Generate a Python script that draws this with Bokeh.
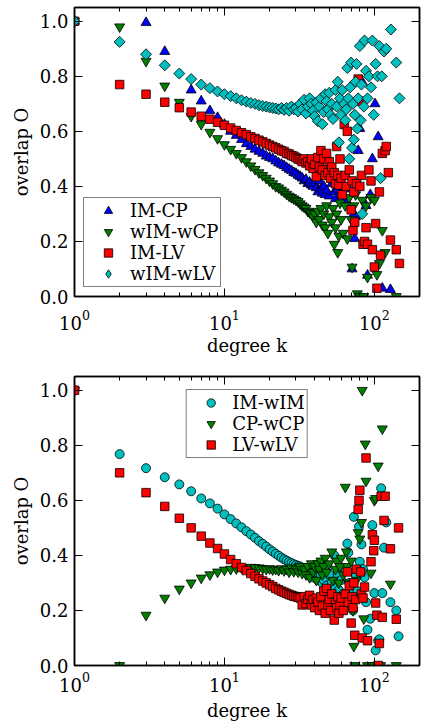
from bokeh.plotting import figure
from bokeh.layouts import column
from bokeh.models import (LinearAxis, LogAxis, FixedTicker, LogTickFormatter,
                          PrintfTickFormatter, Range1d, Legend, LegendItem,
                          CDSView, IndexFilter, ColumnDataSource)
from bokeh.embed import file_html
from bokeh.resources import INLINE

FONT = "DejaVu Serif"

# ---------------- top panel data ----------------
k_imcp = [1, 3, 4, 6, 7, 8, 9, 10, 11, 12, 13, 14, 15, 16, 17, 18, 19, 20, 21, 22, 23, 24, 25, 26, 27, 28, 29, 30,
          31, 32, 33, 34, 35, 36, 37, 38, 39, 40, 41, 42, 43, 44, 45, 46, 47, 48, 50, 52, 54, 55, 57, 60, 62, 65, 68,
          71, 73, 74, 75, 78, 80, 83, 88, 90, 94, 97, 101, 106, 113, 128]
o_imcp = [1.0, 0.995, 0.89, 0.75, 0.71, 0.675, 0.65, 0.625, 0.60, 0.585, 0.57, 0.555, 0.545, 0.535, 0.527, 0.52,
          0.51, 0.505, 0.50, 0.492, 0.485, 0.48, 0.475, 0.468, 0.462, 0.457, 0.45, 0.447, 0.44, 0.436, 0.43, 0.42,
          0.425, 0.41, 0.415, 0.405, 0.40, 0.41, 0.395, 0.38, 0.42, 0.39, 0.375, 0.40, 0.37, 0.385, 0.365, 0.41,
          0.38, 0.355, 0.39, 0.37, 0.345, 0.35, 0.39, 0.10, 0.30, 0.21, 0.29, 0.53, 0.61, 0.78, 0.33, 0.077, 0.37,
          0.50, 0.70, 0.58, 0.03, 0.025]

k_wimwcp = [1, 2, 3, 4, 5, 6, 7, 8, 9, 10, 11, 12, 13, 14, 15, 16, 17, 18, 19, 20, 21, 22, 23, 24, 25, 26, 27, 28,
            29, 30, 31, 32, 33, 34, 35, 36, 37, 38, 39, 40, 41, 42, 43, 44, 45, 46, 47, 48, 49, 50, 52, 53, 54, 55,
            56, 57, 58, 59, 60, 62, 64, 66, 68, 70, 71, 73, 75, 77, 80, 83, 85, 88, 90, 95, 100, 104, 108, 113, 118,
            140]
o_wimwcp = [1.0, 0.98, 0.855, 0.765, 0.706, 0.655, 0.626, 0.597, 0.574, 0.552, 0.535, 0.52, 0.505, 0.49, 0.475,
            0.462, 0.45, 0.44, 0.43, 0.42, 0.41, 0.40, 0.395, 0.387, 0.38, 0.372, 0.365, 0.36, 0.355, 0.35, 0.345,
            0.337, 0.33, 0.325, 0.32, 0.31, 0.305, 0.30, 0.29, 0.30, 0.27, 0.31, 0.28, 0.32, 0.26, 0.30, 0.25, 0.33,
            0.23, 0.29, 0.27, 0.32, 0.19, 0.25, 0.30, 0.16, 0.22, 0.34, 0.28, 0.23, 0.33, 0.21, 0.36, 0.28, 0.107,
            0.33, 0.37, 0.01, 0.0, 0.35, 0.0, 0.33, 0.07, 0.36, 0.35, 0.08, 0.12, 0.24, 0.16, 0.0]

k_imlv = [1, 2, 3, 4, 5, 6, 7, 8, 9, 10, 11, 12, 13, 14, 15, 16, 17, 18, 19, 20, 21, 22, 23, 24, 25, 26, 27, 28, 29,
          30, 31, 32, 33, 34, 35, 36, 37, 38, 39, 40, 41, 42, 43, 44, 45, 46, 47, 48, 49, 50, 51, 52, 54, 55, 56,
          57, 58, 59, 60, 61, 63, 64, 65, 66, 68, 70, 71, 72, 73, 74, 76, 78, 79, 80, 82, 84, 86, 88, 90, 92, 95,
          97, 100, 102, 104, 108, 110, 113, 118, 120, 124, 128, 140, 147]
o_imlv = [1.0, 0.77, 0.735, 0.706, 0.686, 0.67, 0.655, 0.644, 0.633, 0.622, 0.612, 0.603, 0.595, 0.588, 0.58, 0.574,
          0.568, 0.562, 0.556, 0.55, 0.545, 0.54, 0.535, 0.53, 0.527, 0.52, 0.518, 0.512, 0.51, 0.505, 0.50, 0.497,
          0.49, 0.50, 0.485, 0.49, 0.475, 0.50, 0.465, 0.48, 0.435, 0.505, 0.47, 0.53, 0.46, 0.50, 0.44, 0.52, 0.45,
          0.49, 0.43, 0.47, 0.45, 0.41, 0.545, 0.44, 0.405, 0.50, 0.43, 0.37, 0.625, 0.44, 0.40, 0.60, 0.46, 0.315,
          0.42, 0.24, 0.38, 0.27, 0.41, 0.79, 0.71, 0.40, 0.44, 0.19, 0.20, 0.25, 0.19, 0.46, 0.42, 0.17, 0.107,
          0.265, 0.03, 0.38, 0.15, 0.52, 0.53, 0.545, 0.45, 0.205, 0.17, 0.12]

k_wimwlv = [1, 2, 3, 4, 5, 6, 7, 8, 9, 10, 11, 12, 13, 14, 15, 16, 17, 18, 19, 20, 21, 22, 23, 24, 25, 26, 27, 28,
            29, 30, 31, 32, 33, 34, 35, 36, 37, 38, 39, 40, 41, 42, 43, 44, 45, 46, 47, 48, 49, 50, 51, 52, 53, 55,
            56, 57, 58, 59, 60, 61, 63, 64, 65, 66, 67, 68, 69, 70, 71, 72, 73, 74, 75, 76, 77, 78, 80, 81, 82, 83,
            85, 86, 88, 90, 92, 95, 97, 99, 102, 105, 108, 110, 112, 116, 120, 129, 140, 147]
o_wimwlv = [1.0, 0.925, 0.88, 0.84, 0.81, 0.79, 0.77, 0.757, 0.745, 0.735, 0.728, 0.72, 0.713, 0.708, 0.703, 0.70,
            0.695, 0.692, 0.69, 0.687, 0.685, 0.683, 0.68, 0.685, 0.678, 0.685, 0.675, 0.69, 0.68, 0.685, 0.672,
            0.70, 0.68, 0.715, 0.665, 0.69, 0.72, 0.70, 0.675, 0.655, 0.705, 0.637, 0.69, 0.72, 0.626, 0.67, 0.735,
            0.71, 0.68, 0.74, 0.66, 0.70, 0.645, 0.75, 0.69, 0.78, 0.56, 0.72, 0.66, 0.75, 0.70, 0.64, 0.68, 0.83,
            0.72, 0.50, 0.76, 0.85, 0.54, 0.70, 0.57, 0.66, 0.78, 0.845, 0.61, 0.72, 0.91, 0.64, 0.77, 0.30, 0.69,
            0.93, 0.82, 0.72, 0.80, 0.76, 0.93, 0.66, 0.845, 0.80, 0.91, 0.43, 0.80, 0.89, 0.90, 0.97, 0.85, 0.72]

# ---------------- bottom panel data ----------------
k_imwim = [1, 2, 3, 4, 5, 6, 7, 8, 9, 10, 11, 12, 13, 14, 15, 16, 17, 18, 19, 20, 21, 22, 23, 24, 25, 26, 27, 28,
           29, 30, 31, 32, 33, 34, 35, 36, 37, 38, 39, 40, 41, 42, 43, 44, 45, 46, 47, 48, 50, 52, 54, 55, 57, 58,
           60, 62, 64, 66, 67, 68, 70, 72, 73, 75, 77, 79, 80, 82, 84, 86, 88, 90, 94, 97, 100, 102, 106, 108, 111,
           113, 116, 120, 128, 140, 145]
o_imwim = [1.0, 0.768, 0.717, 0.684, 0.658, 0.633, 0.607, 0.589, 0.57, 0.549, 0.532, 0.516, 0.502, 0.488, 0.476,
           0.464, 0.452, 0.442, 0.432, 0.422, 0.414, 0.406, 0.399, 0.392, 0.386, 0.381, 0.376, 0.372, 0.368, 0.365,
           0.362, 0.36, 0.352, 0.345, 0.34, 0.355, 0.33, 0.36, 0.32, 0.35, 0.34, 0.31, 0.37, 0.33, 0.30, 0.31, 0.36,
           0.29, 0.33, 0.30, 0.40, 0.28, 0.33, 0.274, 0.31, 0.26, 0.35, 0.443, 0.41, 0.30, 0.26, 0.20, 0.54, 0.33,
           0.27, 0.505, 0.377, 0.44, 0.35, 0.32, 0.23, 0.13, 0.17, 0.51, 0.263, 0.055, 0.09, 0.095, 0.644, 0.263,
           0.428, 0.52, 0.23, 0.20, 0.106]

k_cpwcp = [1, 2, 3, 4, 5, 6, 7, 8, 9, 10, 11, 12, 13, 14, 15, 16, 17, 18, 19, 20, 21, 22, 23, 24, 25, 26, 27, 28,
           29, 30, 31, 32, 33, 34, 35, 36, 37, 38, 39, 40, 41, 42, 43, 44, 45, 46, 47, 48, 50, 52, 53, 55, 56, 58,
           59, 60, 62, 64, 65, 66, 68, 70, 72, 73, 74, 76, 78, 80, 82, 83, 85, 87, 88, 90, 95, 98, 100, 102, 106,
           110, 113, 128, 140]
o_cpwcp = [1.0, 0.0, 0.183, 0.245, 0.278, 0.30, 0.318, 0.33, 0.34, 0.347, 0.35, 0.352, 0.355, 0.356, 0.357, 0.356,
           0.355, 0.353, 0.35, 0.352, 0.348, 0.35, 0.346, 0.352, 0.345, 0.35, 0.34, 0.355, 0.342, 0.35, 0.34, 0.36,
           0.335, 0.35, 0.33, 0.36, 0.32, 0.37, 0.34, 0.36, 0.31, 0.37, 0.35, 0.38, 0.33, 0.36, 0.39, 0.34, 0.37,
           0.413, 0.31, 0.35, 0.38, 0.30, 0.36, 0.39, 0.33, 0.648, 0.413, 0.36, 0.30, 0.38, 0.20, 0.07, 0.0, 0.31,
           0.483, 0.46, 0.52, 1.0, 0.17, 0.805, 0.67, 0.0, 0.336, 0.0, 0.60, 0.607, 0.725, 0.0, 0.86, 0.296, 0.0]

k_lvwlv = [1, 2, 3, 4, 5, 6, 7, 8, 9, 10, 11, 12, 13, 14, 15, 16, 17, 18, 19, 20, 21, 22, 23, 24, 25, 26, 27, 28,
           29, 30, 31, 32, 33, 34, 35, 36, 37, 38, 39, 40, 41, 42, 43, 44, 45, 46, 47, 48, 49, 50, 51, 52, 54, 55,
           56, 57, 58, 59, 60, 62, 64, 66, 67, 68, 70, 71, 72, 73, 74, 75, 76, 78, 79, 80, 81, 82, 83, 84, 86, 88,
           90, 95, 97, 99, 100, 102, 104, 106, 108, 111, 113, 116, 118, 128, 140, 145]
o_lvwlv = [1.0, 0.70, 0.628, 0.578, 0.535, 0.50, 0.47, 0.445, 0.425, 0.405, 0.385, 0.37, 0.356, 0.345, 0.334, 0.324,
           0.315, 0.307, 0.30, 0.293, 0.287, 0.28, 0.275, 0.27, 0.266, 0.262, 0.258, 0.255, 0.252, 0.25, 0.248,
           0.245, 0.22, 0.25, 0.225, 0.24, 0.255, 0.22, 0.24, 0.21, 0.245, 0.23, 0.20, 0.25, 0.215, 0.27, 0.19, 0.28,
           0.22, 0.24, 0.20, 0.26, 0.165, 0.23, 0.21, 0.25, 0.19, 0.22, 0.245, 0.20, 0.26, 0.34, 0.23, 0.29, 0.154,
           0.25, 0.21, 0.30, 0.11, 0.24, 0.35, 0.567, 0.60, 0.637, 0.34, 0.26, 0.10, 0.245, 0.285, 0.754, 0.09,
           0.377, 0.475, 0.417, 0.455, 0.227, 0.183, 0.0, 0.08, 0.615, 0.175, 0.527, 0.615, 0.424, 0.168, 0.50]

y_ticks = [0.0, 0.2, 0.4, 0.6, 0.8, 1.0]
x_ticks = [1, 10, 100]
x_minor = [2, 3, 4, 5, 6, 7, 8, 9, 20, 30, 40, 50, 60, 70, 80, 90, 200]

BLUE, GREEN, RED, CYAN = "#0000ff", "#007f00", "#ff0000", "#00bfbf"


def make_fig(height, top, bottom, tick_standoff, label_standoff):
    p = figure(width=421, height=height, x_axis_type="log",
               x_range=Range1d(1, 200), y_range=Range1d(0, 1.05),
               output_backend="svg", toolbar_location=None,
               min_border_left=74, min_border_right=2,
               min_border_top=top, min_border_bottom=bottom,
               x_axis_label="degree k", y_axis_label="overlap O")
    p.grid.visible = False
    p.outline_line_color = "black"
    p.outline_line_width = 1.5
    top_ax = LogAxis()
    right_ax = LinearAxis()
    p.add_layout(top_ax, "above")
    p.add_layout(right_ax, "right")

    xt = FixedTicker(ticks=x_ticks, minor_ticks=x_minor)
    yt = FixedTicker(ticks=y_ticks, minor_ticks=[])
    bottom_ax, left_ax = p.below[0], p.left[0]
    for ax in (bottom_ax, top_ax):
        ax.ticker = xt
    for ax in (left_ax, right_ax):
        ax.ticker = yt
    bottom_ax.formatter = LogTickFormatter()
    left_ax.formatter = PrintfTickFormatter(format="%.1f")

    for ax in (bottom_ax, left_ax, top_ax, right_ax):
        ax.axis_line_color = "black"
        ax.axis_line_width = 1.5
        ax.major_tick_line_color = "black"
        ax.major_tick_line_width = 1
        ax.minor_tick_line_color = "black"
        ax.minor_tick_line_width = 1
        ax.major_tick_in = 8
        ax.major_tick_out = 0
        ax.minor_tick_in = 4
        ax.minor_tick_out = 0
        ax.major_label_text_font = FONT
        ax.major_label_text_color = "black"
        ax.axis_label_text_font = FONT
        ax.axis_label_text_font_style = "normal"
        ax.axis_label_text_color = "black"
        ax.axis_label_text_font_size = "18px"

    for ax in (bottom_ax, left_ax):
        ax.major_label_text_font_size = "18px"
    for ax in (top_ax, right_ax):
        ax.major_label_text_font_size = "1px"
        ax.major_label_text_alpha = 0.0
        ax.major_label_standoff = 0

    bottom_ax.major_label_standoff = tick_standoff
    bottom_ax.axis_label_standoff = label_standoff
    left_ax.major_label_standoff = 6
    left_ax.axis_label_standoff = 5
    return p


def mk(p, x, y, color, marker, size, angle=0.0):
    return p.scatter(x, y, marker=marker, size=size, angle=angle, fill_color=color,
                     line_color="black", line_width=0.8)


def make_legend(items, location, margin):
    return Legend(items=items, location=location, margin=margin, padding=2, spacing=0,
                  glyph_width=44, glyph_height=21, label_height=18, label_standoff=0,
                  label_text_font=FONT, label_text_font_size="18px", label_text_color="black",
                  border_line_color="black", border_line_width=1.5,
                  background_fill_color="white", background_fill_alpha=1.0)


p1 = make_fig(368, 7, 72, 13, 2)
r1 = mk(p1, k_imcp, o_imcp, BLUE, "triangle", 10)
r2 = mk(p1, k_wimwcp, o_wimwcp, GREEN, "inverted_triangle", 10)
r3 = mk(p1, k_imlv, o_imlv, RED, "square", 8.5)
# legend key for the diamonds: shows only the first point, which the rotated squares cover
key_src = ColumnDataSource(data=dict(k=k_wimwlv, o=o_wimwlv))
r4_key = p1.scatter("k", "o", source=key_src, view=CDSView(filter=IndexFilter([0])),
                    marker="diamond", size=10, fill_color=CYAN, line_color="black", line_width=0.8)
r4 = mk(p1, k_wimwlv, o_wimwlv, CYAN, "square", 7.8, angle=0.785398)
p1.add_layout(make_legend([LegendItem(label="IM-CP", renderers=[r1]),
                           LegendItem(label="wIM-wCP", renderers=[r2]),
                           LegendItem(label="IM-LV", renderers=[r3]),
                           LegendItem(label="wIM-wLV", renderers=[r4_key])], "bottom_left", 9))

p2 = make_fig(355, 8, 58, 6, 5)
s1 = mk(p2, k_imwim, o_imwim, CYAN, "circle", 9)
s2 = mk(p2, k_cpwcp, o_cpwcp, GREEN, "inverted_triangle", 10)
s3 = mk(p2, k_lvwlv, o_lvwlv, RED, "square", 8.5)
p2.add_layout(make_legend([LegendItem(label="IM-wIM", renderers=[s1]),
                           LegendItem(label="CP-wCP", renderers=[s2]),
                           LegendItem(label="LV-wLV", renderers=[s3])], "top_center", 13))

layout = column(p1, p2)
open("out.html", "w").write(file_html(layout, INLINE))
